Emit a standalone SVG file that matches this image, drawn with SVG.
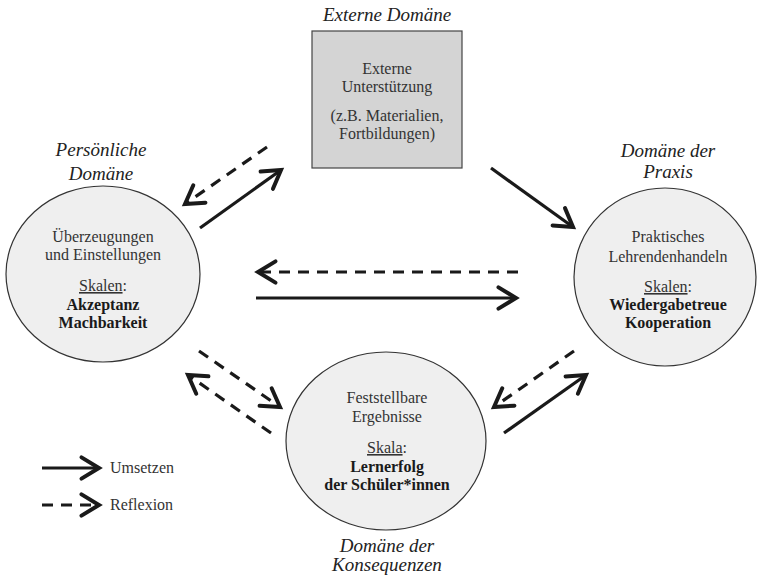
<svg xmlns="http://www.w3.org/2000/svg" width="757" height="580" viewBox="0 0 757 580">
<defs>
<marker id="ah" markerUnits="userSpaceOnUse" markerWidth="30" markerHeight="30" viewBox="-16 -12 20 24" refX="0" refY="0" orient="auto" overflow="visible">
<path d="M-14,-8.5 L0,0 L-14,8.5" fill="none" stroke="#1a1a1a" stroke-width="3.2" stroke-linecap="round" stroke-linejoin="miter"/>
</marker>
<style>
.t{font-family:"Liberation Serif","Times New Roman",serif;font-size:16px;fill:#333;text-anchor:middle}
.b{font-weight:bold;fill:#1a1a1a}
.ti{font-family:"Liberation Serif","Times New Roman",serif;font-size:19px;font-style:italic;fill:#222;text-anchor:middle}
.u{text-decoration:underline}
.node{fill:#efefef;stroke:#333;stroke-width:1.2}
.s{fill:none;stroke:#1a1a1a;stroke-width:3.2;marker-end:url(#ah)}
.d{fill:none;stroke:#1a1a1a;stroke-width:3.2;stroke-dasharray:11 8;marker-end:url(#ah)}
.lg{font-family:"Liberation Serif","Times New Roman",serif;font-size:16px;fill:#333}
</style>
</defs>
<rect width="757" height="580" fill="#fff"/>

<g id="extern">
<text class="ti" x="387" y="21">Externe Domäne</text>
<rect x="312" y="31" width="150" height="137" fill="#d4d4d4" stroke="#444" stroke-width="1.2"/>
<text class="t" x="387" y="74">Externe</text>
<text class="t" x="387" y="92">Unterstützung</text>
<text class="t" x="387" y="121">(z.B. Materialien,</text>
<text class="t" x="387" y="139">Fortbildungen)</text>
</g>

<g id="persoenlich">
<text class="ti" x="101" y="156">Persönliche</text>
<text class="ti" x="101" y="180">Domäne</text>
<ellipse class="node" cx="103" cy="274" rx="97" ry="88"/>
<text class="t" x="103" y="242">Überzeugungen</text>
<text class="t" x="103" y="260">und Einstellungen</text>
<text class="t" x="103" y="291"><tspan class="u">Skalen</tspan>:</text>
<text class="t b" x="103" y="310">Akzeptanz</text>
<text class="t b" x="103" y="328">Machbarkeit</text>
</g>

<g id="praxis">
<text class="ti" x="668" y="157">Domäne der</text>
<text class="ti" x="668" y="178">Praxis</text>
<ellipse class="node" cx="665" cy="277" rx="91" ry="89"/>
<text class="t" x="668" y="242">Praktisches</text>
<text class="t" x="668" y="262">Lehrendenhandeln</text>
<text class="t" x="668" y="292"><tspan class="u">Skalen</tspan>:</text>
<text class="t b" x="668" y="310">Wiedergabetreue</text>
<text class="t b" x="668" y="328">Kooperation</text>
</g>

<g id="konsequenzen">
<ellipse class="node" cx="386" cy="441" rx="100" ry="89"/>
<text class="t" x="387" y="403">Feststellbare</text>
<text class="t" x="387" y="422">Ergebnisse</text>
<text class="t" x="387" y="453"><tspan class="u">Skala</tspan>:</text>
<text class="t b" x="387" y="472">Lernerfolg</text>
<text class="t b" x="387" y="490">der Schüler*innen</text>
<text class="ti" x="387" y="552">Domäne der</text>
<text class="ti" x="387" y="571">Konsequenzen</text>
</g>

<g id="connectors">
<line class="d" x1="267" y1="147" x2="185" y2="204"/>
<line class="s" x1="200" y1="228" x2="281" y2="170"/>
<line class="s" x1="491" y1="168" x2="573" y2="227"/>
<line class="d" x1="518" y1="272" x2="258" y2="272"/>
<line class="s" x1="256" y1="298" x2="516" y2="298"/>
<line class="d" x1="199" y1="351" x2="280" y2="407"/>
<line class="d" x1="271" y1="433" x2="188" y2="375"/>
<line class="d" x1="574" y1="351" x2="494" y2="407"/>
<line class="s" x1="504" y1="433" x2="586" y2="375"/>
</g>

<g id="legende">
<line class="s" x1="42" y1="468" x2="99" y2="468"/>
<text class="lg" x="110" y="473">Umsetzen</text>
<line class="d" x1="42" y1="505" x2="99" y2="505"/>
<text class="lg" x="110" y="510">Reflexion</text>
</g>
</svg>
